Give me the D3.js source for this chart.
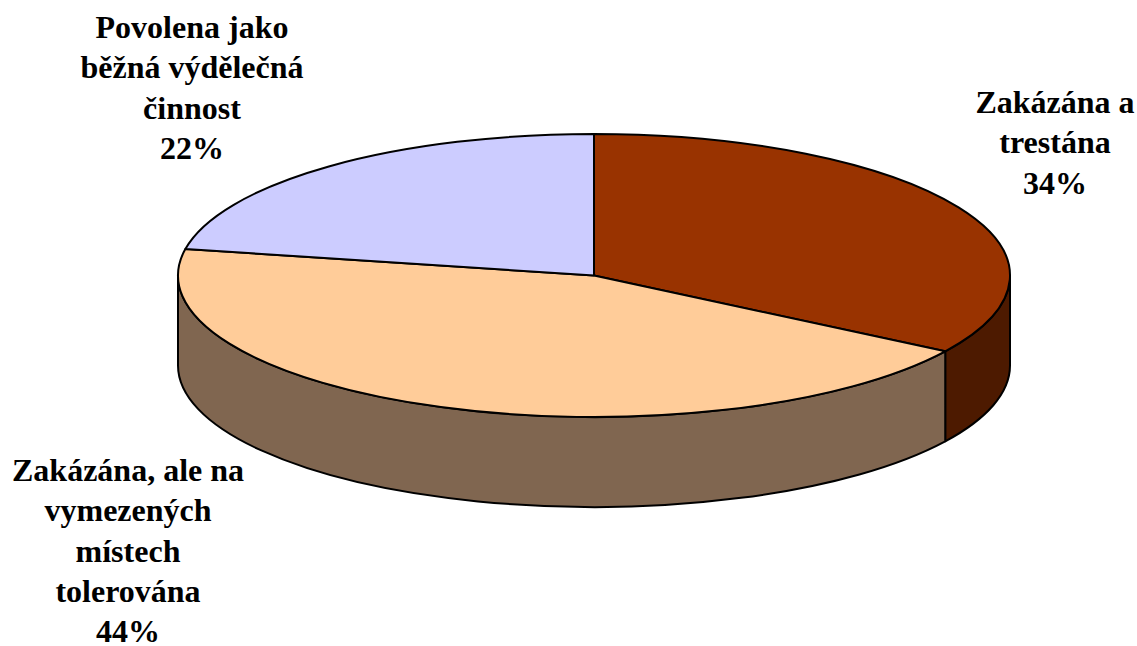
<!DOCTYPE html>
<html lang="cs">
<head>
<meta charset="utf-8">
<script src="https://cdn.jsdelivr.net/npm/d3@7"></script>
</head>
<body style="margin:0">
<svg id="chart" width="1137" height="646"></svg>
<script>
// ---- data ----
const categories = [
  "Zakázána a trestána",
  "Zakázána, ale na vymezených místech tolerována",
  "Povolena jako běžná výdělečná činnost"
];
const values = [34, 44, 22];
const labelLines = [
  ["Zakázána a", "trestána"],
  ["Zakázána, ale na", "vymezených", "místech", "tolerována"],
  ["Povolena jako", "běžná výdělečná", "činnost"]
];

// ---- styles / layout ----
const topColors = ["#993300", "#FFCC99", "#CCCCFF"];
const sideColors = ["#4D1A00", "#806650", "#66667F"];
const fontStack = '"Liberation Serif", "Times New Roman", Tinos, "Nimbus Roman", FreeSerif, serif';
const cx = 594, cy = 275.5, rx = 416, ry = 141.5, depth = 90;
const fontSize = 32, lineH = 40.3;
// label centre x and first baseline y (relative to pie centre)
const labelPos = [
  { dx: 461, dy: -162.5 },
  { dx: -466, dy: 205.5 },
  { dx: -402, dy: -237.5 }
];

const svg = d3.select("#chart");
const total = d3.sum(values);
const pie = d3.pie().sort(null).value(d => d).startAngle(0).endAngle(2 * Math.PI);
const arcs = pie(values).map((a, i) => ({ ...a, i }));

const pt = (t, dy = 0) => [cx + rx * Math.sin(t), cy - ry * Math.cos(t) + dy];

const gPie = svg.append("g");
const gLbl = svg.append("g");

// side walls (front half: pi/2 .. 3pi/2)
arcs.forEach(a => {
  const s = Math.max(a.startAngle, Math.PI / 2);
  const e = Math.min(a.endAngle, 3 * Math.PI / 2);
  if (e <= s) return;
  const p1 = pt(s), p2 = pt(e), p3 = pt(e, depth), p4 = pt(s, depth);
  const large = (e - s) > Math.PI ? 1 : 0;
  const d = `M${p1[0]},${p1[1]} A${rx},${ry} 0 ${large} 1 ${p2[0]},${p2[1]}` +
            ` L${p3[0]},${p3[1]} A${rx},${ry} 0 ${large} 0 ${p4[0]},${p4[1]} Z`;
  gPie.append("path").attr("d", d)
    .attr("fill", sideColors[a.i]).attr("stroke", "#000")
    .attr("stroke-width", 2).attr("stroke-linejoin", "round");
});

// top slices
arcs.forEach(a => {
  const p1 = pt(a.startAngle), p2 = pt(a.endAngle);
  const large = (a.endAngle - a.startAngle) > Math.PI ? 1 : 0;
  const d = `M${cx},${cy} L${p1[0]},${p1[1]} A${rx},${ry} 0 ${large} 1 ${p2[0]},${p2[1]} Z`;
  gPie.append("path").attr("d", d)
    .attr("fill", topColors[a.i]).attr("stroke", "#000")
    .attr("stroke-width", 2).attr("stroke-linejoin", "round");
});

// labels: text-anchor middle, drawn now and redrawn once the font is ready
function drawLabels() {
  gLbl.selectAll("*").remove();
  arcs.forEach(a => {
    const lp = labelPos[a.i];
    const lines = labelLines[a.i].concat([Math.round(a.data / total * 100) + "%"]);
    lines.forEach((ln, k) => {
      gLbl.append("text")
        .attr("x", cx + lp.dx)
        .attr("y", cy + lp.dy + k * lineH)
        .attr("text-anchor", "middle")
        .attr("style", `font-family: ${fontStack}; font-weight: 700; font-size: ${fontSize}px; fill: #000;`)
        .text(ln);
    });
  });
}
drawLabels();
if (document.fonts && document.fonts.load) {
  document.fonts.load(`700 ${fontSize}px "Liberation Serif"`, "Zakázána")
    .then(drawLabels).catch(() => {});
}
</script>
</body>
</html>
